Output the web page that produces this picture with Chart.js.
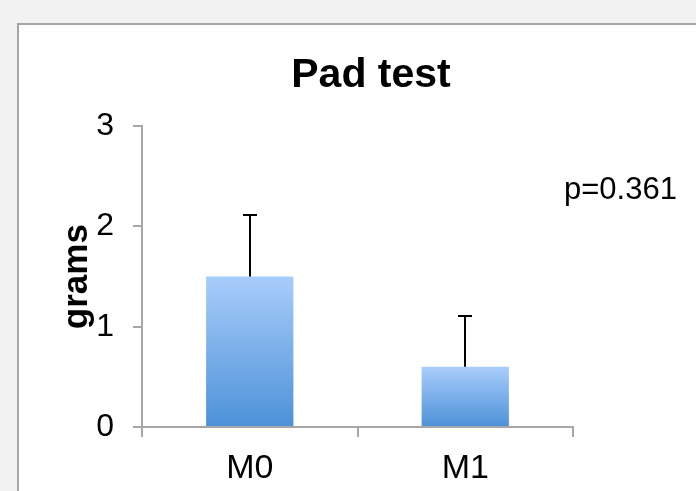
<!DOCTYPE html>
<html>
<head>
<meta charset="utf-8">
<script src="https://cdn.jsdelivr.net/npm/chart.js@4"></script>
<style>
  html, body { margin: 0; padding: 0; overflow: hidden; background: #f2f2f2; }
  #box { position: absolute; left: 17px; top: 23px; width: 800px; height: 600px;
         background: #fff; border-left: 2px solid #a6a6a6; border-top: 2px solid #a6a6a6; }
  #wrap { position: absolute; left: 0; top: 0; width: 696px; height: 491px; }
</style>
</head>
<body>
<div id="box"></div>
<div id="wrap"><canvas id="chart" width="696" height="491"></canvas></div>
<script>
  // data
  const groups = ['M0', 'M1'];
  const means = [1.5, 0.6];
  const errors = [0.61, 0.51];
  const yTicks = [0, 1, 2, 3];
  const pText = 'p=0.361';

  const fontFamily = "'Liberation Sans', Arial, sans-serif";
  const axisGray = '#a6a6a6';

  // each bar gets its own light-to-dark gradient
  function barGradient(context) {
    const chart = context.chart;
    if (!chart.chartArea || context.dataIndex === undefined) return '#7fb0ec';
    const y = chart.scales.y;
    const top = y.getPixelForValue(means[context.dataIndex]);
    const bottom = y.getPixelForValue(0);
    const g = chart.ctx.createLinearGradient(0, top, 0, bottom);
    g.addColorStop(0, '#a9cdfb');
    g.addColorStop(1, '#4c91d8');
    return g;
  }

  // upper error bars only
  const errorBars = {
    id: 'errorBars',
    afterDatasetsDraw(chart) {
      const ctx = chart.ctx;
      const meta = chart.getDatasetMeta(0);
      const y = chart.scales.y;
      ctx.save();
      ctx.strokeStyle = '#000';
      ctx.lineWidth = 2;
      meta.data.forEach((bar, i) => {
        const x = Math.round(bar.x);
        const y0 = y.getPixelForValue(means[i]);
        const y1 = Math.round(y.getPixelForValue(means[i] + errors[i]));
        ctx.beginPath();
        ctx.moveTo(x, y0);
        ctx.lineTo(x, y1);
        ctx.moveTo(x - 7, y1);
        ctx.lineTo(x + 7, y1);
        ctx.stroke();
      });
      ctx.restore();
    }
  };

  const pLabel = {
    id: 'pLabel',
    afterDraw(chart) {
      const ctx = chart.ctx;
      ctx.save();
      ctx.fillStyle = '#000';
      ctx.font = '31px ' + fontFamily;
      ctx.textAlign = 'left';
      ctx.textBaseline = 'alphabetic';
      ctx.fillText(pText, chart.chartArea.right - 9, 199);
      ctx.restore();
    }
  };

  const chart = new Chart(document.getElementById('chart').getContext('2d'), {
    type: 'bar',
    data: {
      labels: groups,
      datasets: [{
        data: means,
        xAxisID: 'x',
        yAxisID: 'y',
        backgroundColor: barGradient,
        borderWidth: 0,
        categoryPercentage: 0.9,
        barPercentage: 0.45
      }]
    },
    options: {
      responsive: false,
      animation: false,
      layout: { padding: { left: 46, right: 0, top: 0, bottom: 0 } },
      plugins: {
        legend: { display: false },
        tooltip: { enabled: false },
        title: {
          display: true,
          text: 'Pad test',
          color: '#000',
          font: { family: fontFamily, size: 41, weight: 'bold', lineHeight: 1.2 },
          padding: { top: 51, bottom: 26 }
        }
      },
      scales: {
        x: {
          afterFit(scale) { scale.height = 64; },
          grid: {
            drawOnChartArea: false,
            drawTicks: true,
            tickLength: 10,
            color: axisGray,
            lineWidth: 2
          },
          border: { color: axisGray, width: 2 },
          ticks: {
            color: '#000',
            padding: 11,
            font: { family: fontFamily, size: 34 }
          }
        },
        y: {
          position: 'left',
          min: 0,
          max: 3,
          afterFit(scale) { scale.width = 96; },
          afterBuildTicks(scale) { scale.ticks = yTicks.map(v => ({ value: v })); },
          grid: {
            drawOnChartArea: false,
            drawTicks: true,
            tickLength: 9,
            color: axisGray,
            lineWidth: 2
          },
          border: { color: axisGray, width: 2 },
          ticks: {
            color: '#000',
            padding: 19,
            font: { family: fontFamily, size: 32 }
          },
          title: {
            display: true,
            text: 'grams',
            color: '#000',
            padding: { top: 10, bottom: 0 },
            font: { family: fontFamily, size: 35, weight: 'bold', lineHeight: 1.2 }
          }
        },
        // empty right-hand axis that only reserves the space where the p value sits
        yRight: {
          type: 'linear',
          position: 'right',
          afterFit(scale) { scale.width = 123; },
          grid: { display: false },
          border: { display: false },
          ticks: { display: false }
        }
      }
    },
    plugins: [errorBars, pLabel]
  });
</script>
</body>
</html>
